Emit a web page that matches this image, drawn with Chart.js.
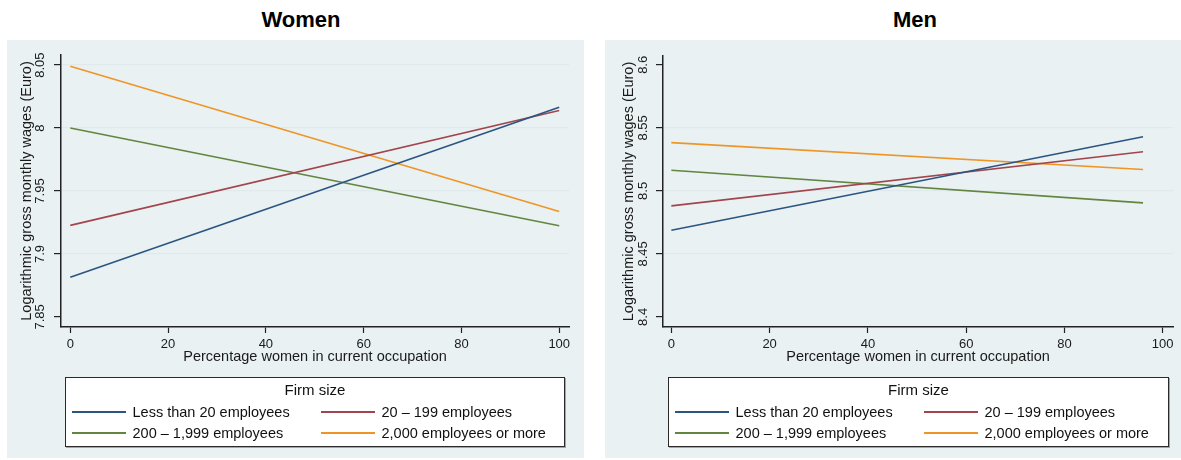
<!DOCTYPE html>
<html lang="en">
<head>
<meta charset="utf-8">
<title>Wages by share of women in occupation and firm size</title>
<script src="https://cdn.jsdelivr.net/npm/chart.js@4.4.1/dist/chart.umd.min.js"></script>
<style>
  html, body { margin:0; padding:0; background:#fff; }
  body { position:relative; width:1181px; height:460px; overflow:hidden;
         font-family:"Liberation Sans", Arial, sans-serif; color:#111; }
  .panel { position:absolute; top:40px; height:418px; background:#e9f1f3; }
  .panel canvas { position:absolute; left:0; top:0; }
  .heading { position:absolute; top:6px; font-weight:bold; font-size:22px; line-height:28px;
             transform:translateX(-50%); white-space:nowrap; color:#000; }
  .legend { position:absolute; top:337px; height:70px; background:#fff;
            border:1.5px solid #2a2a2a; box-sizing:border-box; box-shadow:1px 1px 0 #9aa; }
  .legend .ltitle { position:absolute; left:0; right:0; top:1.5px; text-align:center;
                    font-size:15px; line-height:20px; }
  .legend .key { position:absolute; height:2px; width:54px; }
  .legend .txt { position:absolute; font-size:14.5px; line-height:18px; white-space:nowrap; }
</style>
</head>
<body>
<div class="heading" style="left:301px">Women</div>
<div class="heading" style="left:915px">Men</div>

<div class="panel" style="left:7px;width:577px">
  <canvas id="chartW" width="577" height="416"></canvas>
  <div class="legend" id="legW" style="left:58px;width:500px"></div>
</div>
<div class="panel" style="left:605px;width:576px">
  <canvas id="chartM" width="576" height="416"></canvas>
  <div class="legend" id="legM" style="left:63px;width:501px"></div>
</div>

<script>
// Firm-size groups and their line colours
const firmSizes = ['Less than 20 employees', '20 – 199 employees', '200 – 1,999 employees', '2,000 employees or more'];
const lineColors = ['#2b5580', '#a2444c', '#628540', '#ef9526'];

// Axis ticks
const xTicks = [0, 20, 40, 60, 80, 100];
const womenYTicks = [7.85, 7.9, 7.95, 8, 8.05];
const menYTicks = [8.4, 8.45, 8.5, 8.55, 8.6];

// Women: predicted log wages at the ends of the observed share range
const womenShare = [0, 100];
const womenLt20 = [7.8815, 8.0166];
const women20to199 = [7.9227, 8.0140];
const women200to1999 = [8.0000, 7.9224];
const women2000plus = [8.0490, 7.9337];

// Men: predicted log wages at the ends of the observed share range
const menShare = [0, 96];
const menLt20 = [8.4688, 8.5429];
const men20to199 = [8.4881, 8.5310];
const men200to1999 = [8.5164, 8.4905];
const men2000plus = [8.5383, 8.5169];

Chart.defaults.font.family = '"Liberation Sans", Arial, sans-serif';
Chart.defaults.color = '#1a1a1a';

function buildDatasets(xs, seriesList) {
  return seriesList.map((vals, i) => ({
    label: firmSizes[i],
    data: xs.map((x, j) => ({ x: x, y: vals[j] })),
    borderColor: lineColors[i],
    borderWidth: 1.6,
    pointRadius: 0,
    fill: false,
    tension: 0
  }));
}

function drawPanel(canvasId, xs, seriesList, yTicks, gridVals, lay) {
  const ctx = document.getElementById(canvasId).getContext('2d');
  return new Chart(ctx, {
    type: 'line',
    data: { datasets: buildDatasets(xs, seriesList) },
    options: {
      responsive: false,
      animation: false,
      events: [],
      layout: { padding: { left: 0, top: lay.padTop, right: lay.padRight, bottom: lay.padBottom } },
      plugins: { legend: { display: false }, tooltip: { enabled: false } },
      scales: {
        x: {
          type: 'linear',
          min: lay.xMin, max: lay.xMax,
          afterBuildTicks: s => { s.ticks = xTicks.map(v => ({ value: v })); },
          afterFit: s => { s.height = 40; },
          grid: { display: true, drawOnChartArea: false, tickLength: 6, tickColor: '#222', tickWidth: 1.2 },
          border: { color: '#222', width: 1.5 },
          ticks: { font: { size: 13 }, padding: 4, maxRotation: 0, callback: v => String(v) },
          title: { display: true, text: 'Percentage women in current occupation',
                   font: { size: 14.5 }, padding: { top: 0, bottom: 1 } }
        },
        y: {
          type: 'linear',
          min: lay.yMin, max: lay.yMax,
          afterBuildTicks: s => { s.ticks = yTicks.map(v => ({ value: v })); },
          afterFit: s => { s.width = lay.yWidth; },
          grid: {
            color: c => (c.tick && gridVals.includes(c.tick.value)) ? '#e0eaed' : 'rgba(0,0,0,0)',
            lineWidth: 1.2,
            tickLength: 7, tickColor: '#222', tickWidth: 1.2
          },
          border: { color: '#222', width: 1.5 },
          ticks: { font: { size: 13 }, minRotation: 90, maxRotation: 90, crossAlign: 'center',
                   padding: lay.yTickPad, callback: v => String(v) },
          title: { display: true, text: 'Logarithmic gross monthly wages (Euro)',
                   font: { size: 14.5 }, padding: { top: lay.yTitlePad, bottom: 0 } }
        }
      }
    }
  });
}

function buildLegend(id) {
  const box = document.getElementById(id);
  const t = document.createElement('div');
  t.className = 'ltitle';
  t.textContent = 'Firm size';
  box.appendChild(t);
  const rows = [33.5, 54.5];
  const keyLeft = [5.5, 254.5];
  const txtLeft = [66.5, 315.5];
  firmSizes.forEach((name, i) => {
    const r = Math.floor(i / 2), c = i % 2;
    const k = document.createElement('div');
    k.className = 'key';
    k.style.left = keyLeft[c] + 'px';
    k.style.top = (rows[r] - 1) + 'px';
    k.style.background = lineColors[i];
    box.appendChild(k);
    const s = document.createElement('div');
    s.className = 'txt';
    s.style.left = txtLeft[c] + 'px';
    s.style.top = (rows[r] - 9) + 'px';
    s.textContent = name;
    box.appendChild(s);
  });
}

drawPanel('chartW', womenShare, [womenLt20, women20to199, women200to1999, women2000plus],
  womenYTicks, [7.9, 7.95, 8, 8.05],
  { padTop: 15, padRight: 15, padBottom: 89, yWidth: 54, yTickPad: 1, yTitlePad: 11,
    xMin: -1.9, xMax: 102, yMin: 7.842, yMax: 8.058 });

drawPanel('chartM', menShare, [menLt20, men20to199, men200to1999, men2000plus],
  menYTicks, [8.45, 8.5, 8.55],
  { padTop: 16, padRight: 8, padBottom: 89, yWidth: 58, yTickPad: 0, yTitlePad: 15,
    xMin: -1.7, xMax: 102.1, yMin: 8.392, yMax: 8.607 });

buildLegend('legW');
buildLegend('legM');
</script>
</body>
</html>
